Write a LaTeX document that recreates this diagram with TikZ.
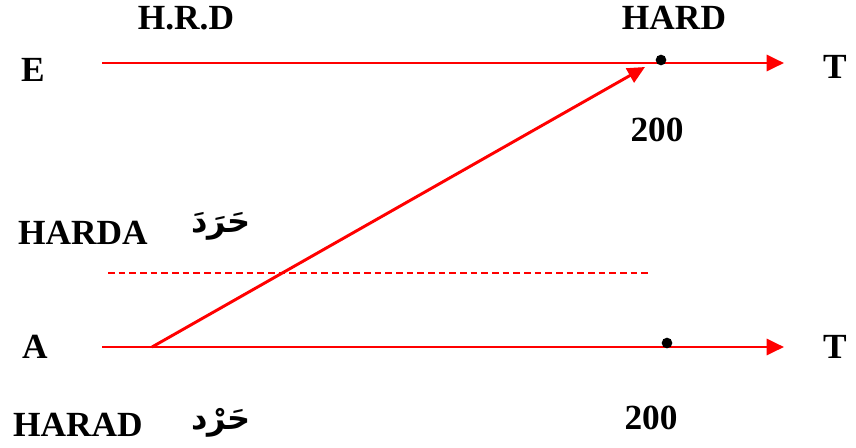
\documentclass[tikz,border=0pt]{standalone}
\usepackage{fontspec}
\setmainfont{Liberation Serif}
\newfontfamily\arabicfont[Script=Arabic]{DejaVu Sans}
\TeXXeTstate=1
\usetikzlibrary{arrows.meta}
\begin{document}
\begin{tikzpicture}[x=0.75pt,y=-0.75pt,
  lbl/.style={font=\fontsize{26.5}{30}\selectfont\bfseries, inner sep=0pt},
  arab/.style={font=\fontsize{24}{28}\selectfont\arabicfont\bfseries, inner sep=0pt},
  redline/.style={draw=red, line width=2.2pt},
  arr/.style={redline, -{Triangle[length=13pt,width=12pt]}},
  dot/.style={circle, fill=black, inner sep=0pt, minimum size=8pt}]
\useasboundingbox (0,0) rectangle (856,447);
% labels
\node[lbl] (hrd) at (186,18) {H.R.D};
\node[lbl] (hard) at (674,18) {HARD};
\node[lbl] (e) at (33,70) {E};
\node[lbl] (t1) at (835,67) {T};
\node[lbl] (n200a) at (657,130) {200};
\node[lbl] (harda) at (83,233) {HARDA};
\node[arab] (ar1) at (221,226) {\hbox{\beginR حَرَدَ\endR}};
\node[lbl] (a) at (35,347) {A};
\node[lbl] (t2) at (835,347) {T};
\node[lbl] (harad) at (78,425) {HARAD};
\node[arab] (ar2) at (221,423) {\hbox{\beginR حَرْد\endR}};
\node[lbl] (n200b) at (651,418) {200};
% lines
\coordinate (s1) at (102,63);
\coordinate (e1) at (784,63);
\coordinate (s2) at (102,347);
\coordinate (e2) at (784,347);
\coordinate (d0) at (152,347);
\coordinate (d1) at (645,67);
\coordinate (ds) at (108,273);
\coordinate (de) at (648,273);
\draw[arr] (s1) -- (e1);
\draw[arr] (s2) -- (e2);
\draw[arr] (d0) -- (d1);
\draw[draw=red, line width=1pt, dash pattern=on 5pt off 3pt] (ds) -- (de);
\node[dot] (p1) at (661,60) {};
\node[dot] (p2) at (667,343) {};
\end{tikzpicture}
\end{document}
